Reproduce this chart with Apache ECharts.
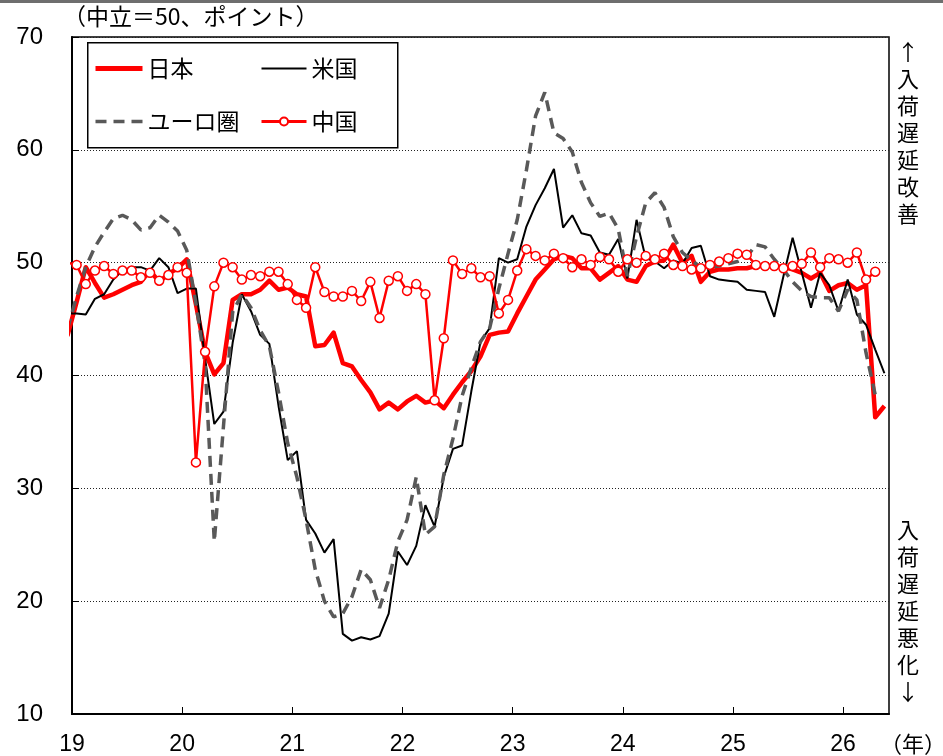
<!DOCTYPE html>
<html lang="ja">
<head>
<meta charset="UTF-8">
<title>入荷遅延指数</title>
<script src="https://cdn.jsdelivr.net/npm/echarts@6.0.0/dist/echarts.min.js"></script>
<style>
  html, body { margin: 0; padding: 0; background: #fff; }
  #chart { width: 943px; height: 756px; }
</style>
</head>
<body>
<div id="chart"></div>
<script>
  // 月次データ：2018年12月～2026年5月（先頭の2018年12月は軸の外で切れる）
  const yearLabels = ['19', '20', '21', '22', '23', '24', '25', '26'];
  const seriesNames = ['日本', '米国', 'ユーロ圏', '中国'];

  const japan = [
    43.5, 46.5, 49.6, 48.2, 46.9, 47.2, 47.6, 48.0, 48.3, 49.3,
    48.3, 49.0, 49.5, 50.3, 46.3, 42.1, 40.1, 41.1, 46.7, 47.2,
    47.2, 47.6, 48.4, 47.6, 47.8, 47.2, 47.0, 42.6, 42.7, 43.8,
    41.1, 40.8, 39.6, 38.5, 37.0, 37.6, 37.0, 37.7, 38.2, 37.6,
    37.8, 37.1, 38.3, 39.4, 40.4, 41.7, 43.6, 43.8, 43.9, 45.5,
    47.0, 48.5, 49.4, 50.3, 50.6, 50.4, 49.5, 49.5, 48.5, 49.1,
    49.7, 48.5, 48.3, 49.7, 50.1, 50.2, 51.6, 50.0, 50.6, 48.3,
    49.2, 49.4, 49.4, 49.5, 49.5, 49.7, 49.7, 49.7, 49.6, 49.4,
    49.1, 48.6, 49.1, 47.5, 48.0, 48.2, 47.6, 48.0, 36.3, 37.3
  ];
  const usa = [
    45.5, 45.5, 45.4, 46.8, 47.2, 48.5, 49.3, 49.6, 49.6, 49.3,
    50.4, 49.6, 47.3, 47.7, 47.7, 41.5, 35.7, 36.8, 42.9, 47.2,
    45.7, 43.6, 42.8, 37.3, 32.5, 33.3, 27.2, 26.0, 24.3, 25.5,
    17.1, 16.5, 16.8, 16.6, 16.9, 18.9, 24.4, 23.2, 24.9, 28.5,
    26.6, 31.0, 33.5, 33.8, 38.6, 43.0, 44.2, 50.4, 50.0, 50.3,
    53.2, 55.1, 56.6, 58.3, 53.1, 54.2, 52.6, 52.4, 50.9, 50.7,
    52.1, 48.6, 53.8, 50.4, 50.1, 49.5, 50.2, 49.9, 51.3, 51.5,
    48.8, 48.5, 48.4, 48.3, 47.6, 47.5, 47.4, 45.2, 48.8, 52.2,
    49.1, 46.0, 49.1, 48.0, 45.7, 48.5, 45.4, 44.5, 42.3, 40.2
  ];
  const euro = [
    44.1, 47.0, 49.6, 51.4, 52.7, 53.9, 54.2, 53.8, 52.9, 53.1,
    54.2, 53.6, 52.8, 51.1, 46.4, 41.0, 25.3, 35.5, 45.6, 47.2,
    46.0, 44.0, 42.6, 38.5, 34.0, 31.0, 27.2, 22.8, 20.0, 18.6,
    18.9, 20.4, 22.8, 21.9, 19.4, 21.9, 25.3, 27.2, 31.0, 25.9,
    26.6, 31.2, 34.4, 38.2, 40.7, 43.0, 44.2, 47.7, 50.8, 53.8,
    58.2, 63.0, 65.1, 61.5, 61.0, 59.8, 57.1, 55.3, 54.1, 54.4,
    53.0, 48.8, 52.3, 55.3, 56.2, 54.9, 52.3, 50.9, 50.2, 49.6,
    49.6, 49.7, 49.9, 50.1, 50.5, 51.6, 51.4, 50.3, 49.4, 48.3,
    47.5, 47.0, 46.9, 46.9, 45.7, 47.6, 46.7, 42.0, 38.3
  ];
  const china = [
    50.0, 49.8, 48.1, 49.3, 49.7, 49.0, 49.3, 49.3, 48.7, 49.1,
    48.4, 48.9, 49.6, 49.1, 32.3, 42.1, 47.9, 50.0, 49.6, 48.5,
    48.9, 48.8, 49.2, 49.2, 48.1, 46.7, 46.0, 49.6, 47.4, 47.0,
    47.0, 47.5, 46.6, 48.3, 45.1, 48.4, 48.8, 47.5, 48.1, 47.2,
    37.8, 43.3, 50.2, 49.0, 49.5, 48.7, 48.8, 45.5, 46.7, 49.3,
    51.2, 50.6, 50.2, 50.8, 50.4, 49.6, 50.3, 49.8, 50.5, 50.3,
    49.2, 50.3, 50.0, 50.6, 50.3, 50.8, 49.8, 49.7, 49.4, 49.5,
    49.8, 50.1, 50.4, 50.8, 50.7, 49.8, 49.7, 49.7, 49.5, 49.7,
    49.9, 50.9, 49.6, 50.4, 50.3, 50.0, 50.9, 48.5, 49.2
  ];

  // x = 2019年1月初からの月数（各月の中央に点を置く）
  function toPoints(arr) {
    return arr.map((v, k) => [k - 0.5, v]);
  }

  const jpFont = '"Noto Sans CJK JP", sans-serif';
  const numFont = '"Liberation Sans", Arial, sans-serif';
  const noMarker = { opacity: 0 };

  const chart = echarts.init(document.getElementById('chart'));
  chart.setOption({
    animation: false,
    backgroundColor: '#fff',
    grid: {
      left: 72, top: 37, width: 817, height: 677,
      show: true, borderColor: '#000', borderWidth: 1.5
    },
    legend: [
      {
        orient: 'vertical', left: 93, top: 57, padding: 0, itemGap: 30, z: 10,
        itemWidth: 47, itemHeight: 12,
        textStyle: { fontSize: 23, fontFamily: jpFont, color: '#000' },
        data: [
          { name: '日本', itemStyle: noMarker, lineStyle: { width: 5 } },
          { name: 'ユーロ圏', itemStyle: noMarker, lineStyle: { width: 3.5 } }
        ]
      },
      {
        orient: 'vertical', left: 260, top: 57, padding: 0, itemGap: 30, z: 10,
        itemWidth: 45, itemHeight: 10,
        textStyle: { fontSize: 23, fontFamily: jpFont, color: '#000' },
        data: [
          { name: '米国', itemStyle: noMarker, lineStyle: { width: 2 } },
          { name: '中国', lineStyle: { width: 3 } }
        ]
      }
    ],
    xAxis: {
      type: 'value', min: 0, max: 89, interval: 12,
      axisLine: { lineStyle: { color: '#000', width: 2 } },
      axisTick: { inside: true, length: 7, lineStyle: { color: '#000', width: 1 } },
      splitLine: { show: false },
      axisLabel: {
        margin: 19, fontSize: 23, fontFamily: numFont, color: '#000',
        showMaxLabel: false,
        formatter: v => (v % 12 === 0 ? yearLabels[v / 12] : '')
      }
    },
    yAxis: {
      type: 'value', min: 10, max: 70, interval: 10,
      axisLine: { show: true, lineStyle: { color: '#000', width: 2 } },
      axisTick: { show: true, inside: true, length: 7, lineStyle: { color: '#000', width: 1 } },
      splitLine: { lineStyle: { color: '#222', width: 1, type: [1, 2] } },
      axisLabel: { margin: 29, fontSize: 24, fontFamily: numFont, color: '#000' }
    },
    graphic: [
      { type: 'rect', left: 0, top: 0, shape: { width: 943, height: 3 }, style: { fill: '#6e6e6e' } },
      { type: 'text', left: 63, top: 5, style: { text: '（中立＝50、ポイント）', font: '23px ' + jpFont, fill: '#000' } },
      {
        type: 'rect', left: 87, top: 42, z: 3, silent: true,
        shape: { width: 310, height: 105 },
        style: { fill: '#fff', stroke: '#000', lineWidth: 1.5 }
      },
      {
        type: 'text', left: 897, top: 38,
        style: { text: '↑\n入\n荷\n遅\n延\n改\n善', font: '22px ' + jpFont, lineHeight: 27, fill: '#000', align: 'center' }
      },
      {
        type: 'text', left: 897, top: 516,
        style: { text: '入\n荷\n遅\n延\n悪\n化\n↓', font: '22px ' + jpFont, lineHeight: 27, fill: '#000', align: 'center' }
      },
      { type: 'text', left: 880, top: 733, style: { text: '（年）', font: '22px ' + jpFont, fill: '#000' } }
    ],
    series: [
      {
        name: seriesNames[0], type: 'line', data: toPoints(japan), symbol: 'none',
        lineStyle: { color: '#ff0000', width: 4.5, join: 'round' }, itemStyle: { color: '#ff0000' }
      },
      {
        name: seriesNames[1], type: 'line', data: toPoints(usa), symbol: 'none',
        lineStyle: { color: '#000', width: 2 }, itemStyle: { color: '#000' }
      },
      {
        name: seriesNames[2], type: 'line', data: toPoints(euro), symbol: 'none',
        lineStyle: { color: '#595959', width: 3.5, type: [11, 7] }, itemStyle: { color: '#595959' }
      },
      {
        name: seriesNames[3], type: 'line', data: toPoints(china),
        symbol: 'circle', symbolSize: 9,
        lineStyle: { color: '#ff0000', width: 2.5 },
        itemStyle: { color: '#fff', borderColor: '#ff0000', borderWidth: 1.5 }
      }
    ]
  });
</script>
</body>
</html>
